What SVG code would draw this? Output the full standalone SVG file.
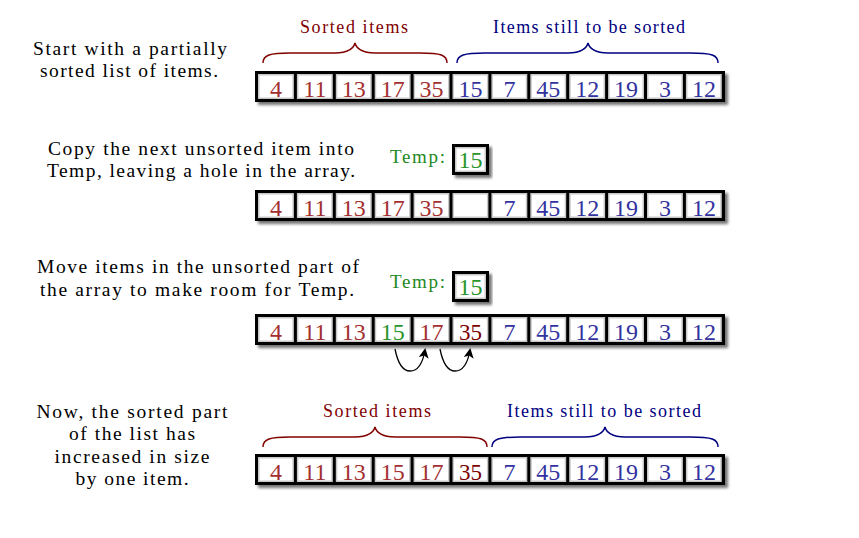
<svg xmlns="http://www.w3.org/2000/svg" xmlns:xlink="http://www.w3.org/1999/xlink" width="859" height="538" viewBox="0 0 859 538">
<style>
.desc{font-family:"Liberation Serif",serif;font-size:19.5px;fill:#000;text-anchor:middle}
.lbl{font-family:"Liberation Serif",serif;font-size:18px;text-anchor:middle}
.num{font-family:"Liberation Serif",serif;font-size:24px;text-anchor:middle}
.r{fill:#a33030}
.b{fill:#3333a0}
.g{fill:#2a952a}
.m{fill:#7a0000;font-size:23px}
.temp{font-family:"Liberation Serif",serif;font-size:19px;fill:#228822}
.cell{fill:#fff;stroke:#c8c8c8;stroke-width:1.5}
.brR{fill:none;stroke:#800000;stroke-width:1.5}
.brB{fill:none;stroke:#000080;stroke-width:1.5}
.conn{fill:none;stroke:#000;stroke-width:1.3}
</style>
<defs>
<filter id="sh" x="-5%" y="-20%" width="115%" height="160%">
<feDropShadow dx="3" dy="3" stdDeviation="1.5" flood-color="#000" flood-opacity="0.55"/>
</filter>
<marker id="ah" markerWidth="10" markerHeight="10" refX="8" refY="5" orient="auto" markerUnits="userSpaceOnUse">
<path d="M0,0 L10,5 L0,10 L2.5,5 z" fill="#000"/>
</marker>
<g id="arr">
<rect x="0" y="0" width="470" height="31" fill="#000" filter="url(#sh)"/>
<rect class="cell" x="3.75" y="3.75" width="34.4" height="23.5"/>
<rect class="cell" x="42.65" y="3.75" width="34.4" height="23.5"/>
<rect class="cell" x="81.55" y="3.75" width="34.4" height="23.5"/>
<rect class="cell" x="120.45" y="3.75" width="34.4" height="23.5"/>
<rect class="cell" x="159.35" y="3.75" width="34.4" height="23.5"/>
<rect class="cell" x="198.25" y="3.75" width="34.4" height="23.5"/>
<rect class="cell" x="237.15" y="3.75" width="34.4" height="23.5"/>
<rect class="cell" x="276.05" y="3.75" width="34.4" height="23.5"/>
<rect class="cell" x="314.95" y="3.75" width="34.4" height="23.5"/>
<rect class="cell" x="353.85" y="3.75" width="34.4" height="23.5"/>
<rect class="cell" x="392.75" y="3.75" width="34.4" height="23.5"/>
<rect class="cell" x="431.65" y="3.75" width="34.4" height="23.5"/>
</g>
<g id="tbox">
<rect x="0" y="0" width="37" height="31" fill="#000" filter="url(#sh)"/>
<rect class="cell" x="3.75" y="3.75" width="29.5" height="23.5"/>
</g>
</defs>
<rect width="859" height="538" fill="#fff"/>

<g id="step1">
<text class="desc" x="130" y="55" textLength="194">Start with a partially</text>
<text class="desc" x="129" y="77" textLength="178">sorted list of items.</text>
<text class="lbl" x="354" y="33" fill="#800000" textLength="108">Sorted items</text>
<text class="lbl" x="589" y="33" fill="#000080" textLength="192">Items still to be sorted</text>
<path class="brR" d="M263,63 C263,55 270,53 290,53 L335,53 C348,53 354,48 355,43 C356,48 362,53 375,53 L420,53 C441,53 447,55 447,63"/>
<path class="brB" d="M457,63 C457,55 464,53 485,53 L568,53 C581,53 587,48 588,43 C589,48 595,53 608,53 L690,53 C712,53 718,55 718,63"/>
<use xlink:href="#arr" x="255" y="71"/>
<g transform="translate(0,97)">
<text class="num r" x="276">4</text><text class="num r" x="314.9">11</text><text class="num r" x="353.8">13</text><text class="num r" x="392.7">17</text><text class="num r" x="431.6">35</text>
<text class="num b" x="470.5">15</text><text class="num b" x="509.4">7</text><text class="num b" x="548.3">45</text><text class="num b" x="587.2">12</text><text class="num b" x="626.1">19</text><text class="num b" x="665">3</text><text class="num b" x="703.9">12</text>
</g>
</g>

<g id="step2">
<text class="desc" x="201" y="155" textLength="306">Copy the next unsorted item into</text>
<text class="desc" x="201" y="177" textLength="308">Temp, leaving a hole in the array.</text>
<text class="temp" x="390" y="163" textLength="55">Temp:</text>
<use xlink:href="#tbox" x="452" y="144"/>
<text class="num g" x="470.5" y="168">15</text>
<use xlink:href="#arr" x="255" y="190"/>
<g transform="translate(0,216)">
<text class="num r" x="276">4</text><text class="num r" x="314.9">11</text><text class="num r" x="353.8">13</text><text class="num r" x="392.7">17</text><text class="num r" x="431.6">35</text>
<text class="num b" x="509.4">7</text><text class="num b" x="548.3">45</text><text class="num b" x="587.2">12</text><text class="num b" x="626.1">19</text><text class="num b" x="665">3</text><text class="num b" x="703.9">12</text>
</g>
</g>

<g id="step3">
<text class="desc" x="198" y="273" textLength="322">Move items in the unsorted part of</text>
<text class="desc" x="197" y="296" textLength="314">the array to make room for Temp.</text>
<text class="temp" x="390" y="288" textLength="55">Temp:</text>
<use xlink:href="#tbox" x="452" y="271"/>
<text class="num g" x="470.5" y="295">15</text>
<use xlink:href="#arr" x="255" y="314"/>
<g transform="translate(0,340)">
<text class="num r" x="276">4</text><text class="num r" x="314.9">11</text><text class="num r" x="353.8">13</text><text class="num g" x="392.7">15</text><text class="num r" x="431.6">17</text>
<text class="num m" x="470.5">35</text><text class="num b" x="509.4">7</text><text class="num b" x="548.3">45</text><text class="num b" x="587.2">12</text><text class="num b" x="626.1">19</text><text class="num b" x="665">3</text><text class="num b" x="703.9">12</text>
</g>
</g>

<g id="connectors">
<path class="conn" marker-end="url(#ah)" d="M395,349 C398,364 403,371 410,371 C418,371 423,362 425,350"/>
<path class="conn" marker-end="url(#ah)" d="M440,349 C443,364 448,371 455,371 C463,371 468,362 470,350"/>
</g>

<g id="step4">
<text class="desc" x="132" y="418" textLength="191">Now, the sorted part</text>
<text class="desc" x="132" y="440" textLength="126">of the list has</text>
<text class="desc" x="132" y="463" textLength="155">increased in size</text>
<text class="desc" x="132" y="485" textLength="113">by one item.</text>
<text class="lbl" x="377" y="417" fill="#800000" textLength="108">Sorted items</text>
<text class="lbl" x="604" y="417" fill="#000080" textLength="194">Items still to be sorted</text>
<path class="brR" d="M263,447 C263,439 270,437 290,437 L355,437 C368,437 374,432 375,427 C376,432 382,437 395,437 L460,437 C481,437 487,439 487,447"/>
<path class="brB" d="M492,447 C492,439 499,437 520,437 L585,437 C598,437 604,432 605,427 C606,432 612,437 625,437 L690,437 C712,437 718,439 718,447"/>
<use xlink:href="#arr" x="255" y="454"/>
<g transform="translate(0,480)">
<text class="num r" x="276">4</text><text class="num r" x="314.9">11</text><text class="num r" x="353.8">13</text><text class="num r" x="392.7">15</text><text class="num r" x="431.6">17</text>
<text class="num m" x="470.5">35</text><text class="num b" x="509.4">7</text><text class="num b" x="548.3">45</text><text class="num b" x="587.2">12</text><text class="num b" x="626.1">19</text><text class="num b" x="665">3</text><text class="num b" x="703.9">12</text>
</g>
</g>
</svg>
